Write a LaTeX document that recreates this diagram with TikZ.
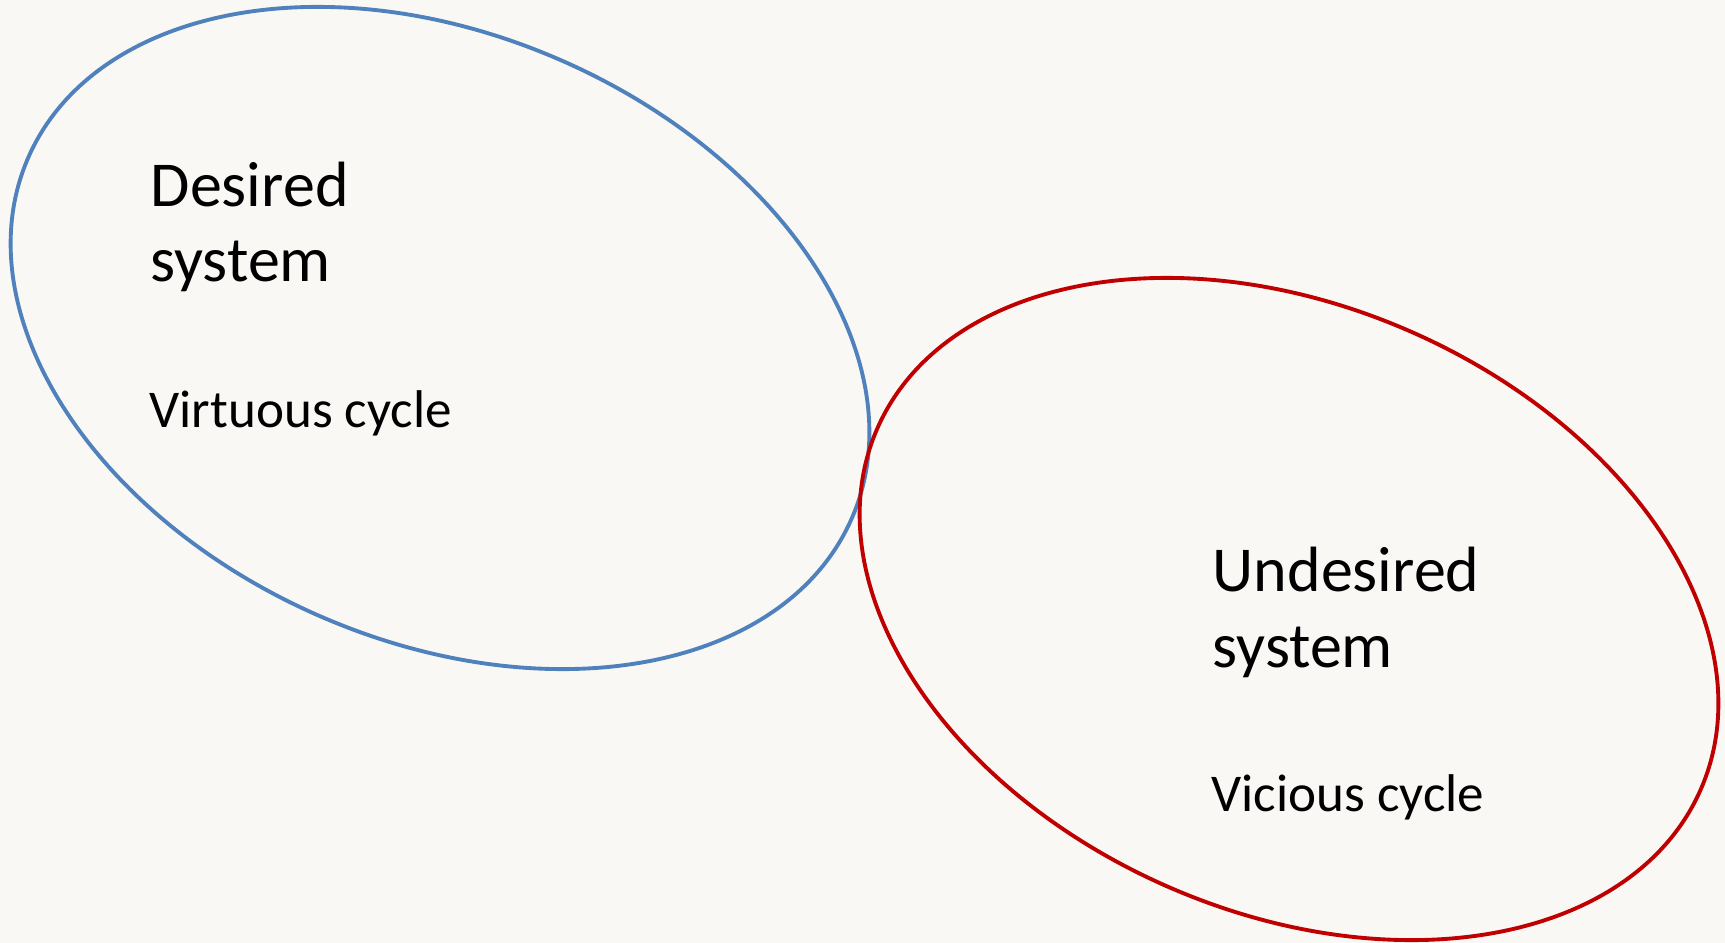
\documentclass[tikz,border=0pt]{standalone}
\usepackage{fontspec}
\setmainfont{Carlito}
\usetikzlibrary{shapes.geometric}
\definecolor{bgc}{RGB}{249,248,245}
\definecolor{goodblue}{RGB}{79,129,189}
\definecolor{badred}{RGB}{192,0,0}
\tikzset{
  loop/.style={draw, ellipse, line width=1.1pt, inner sep=0pt,
    minimum width=8.986cm, minimum height=6.056cm, rotate=-23.7},
  title/.style={anchor=base west, inner sep=0pt, align=left,
    font=\fontsize{18.2}{21.5}\selectfont},
  sub/.style={anchor=base west, inner sep=0pt,
    font=\fontsize{15.1}{18}\selectfont}
}
\begin{document}
\begin{tikzpicture}[x=0.01cm,y=-0.01cm]
\fill[bgc] (0,0) rectangle (1725,943);
\useasboundingbox (0,0) rectangle (1725,943);
\node[loop, goodblue] (desired) at (440,338) {};
\node[loop, badred] (undesired) at (1289,609) {};
\node[title] (dtitle) at (150,282) {Desired\\system};
\node[sub] (dsub) at (149,427) {Virtuous cycle};
\node[title] (utitle) at (1212,667) {Undesired\\system};
\node[sub] (usub) at (1211,811) {Vicious cycle};
\end{tikzpicture}
\end{document}
